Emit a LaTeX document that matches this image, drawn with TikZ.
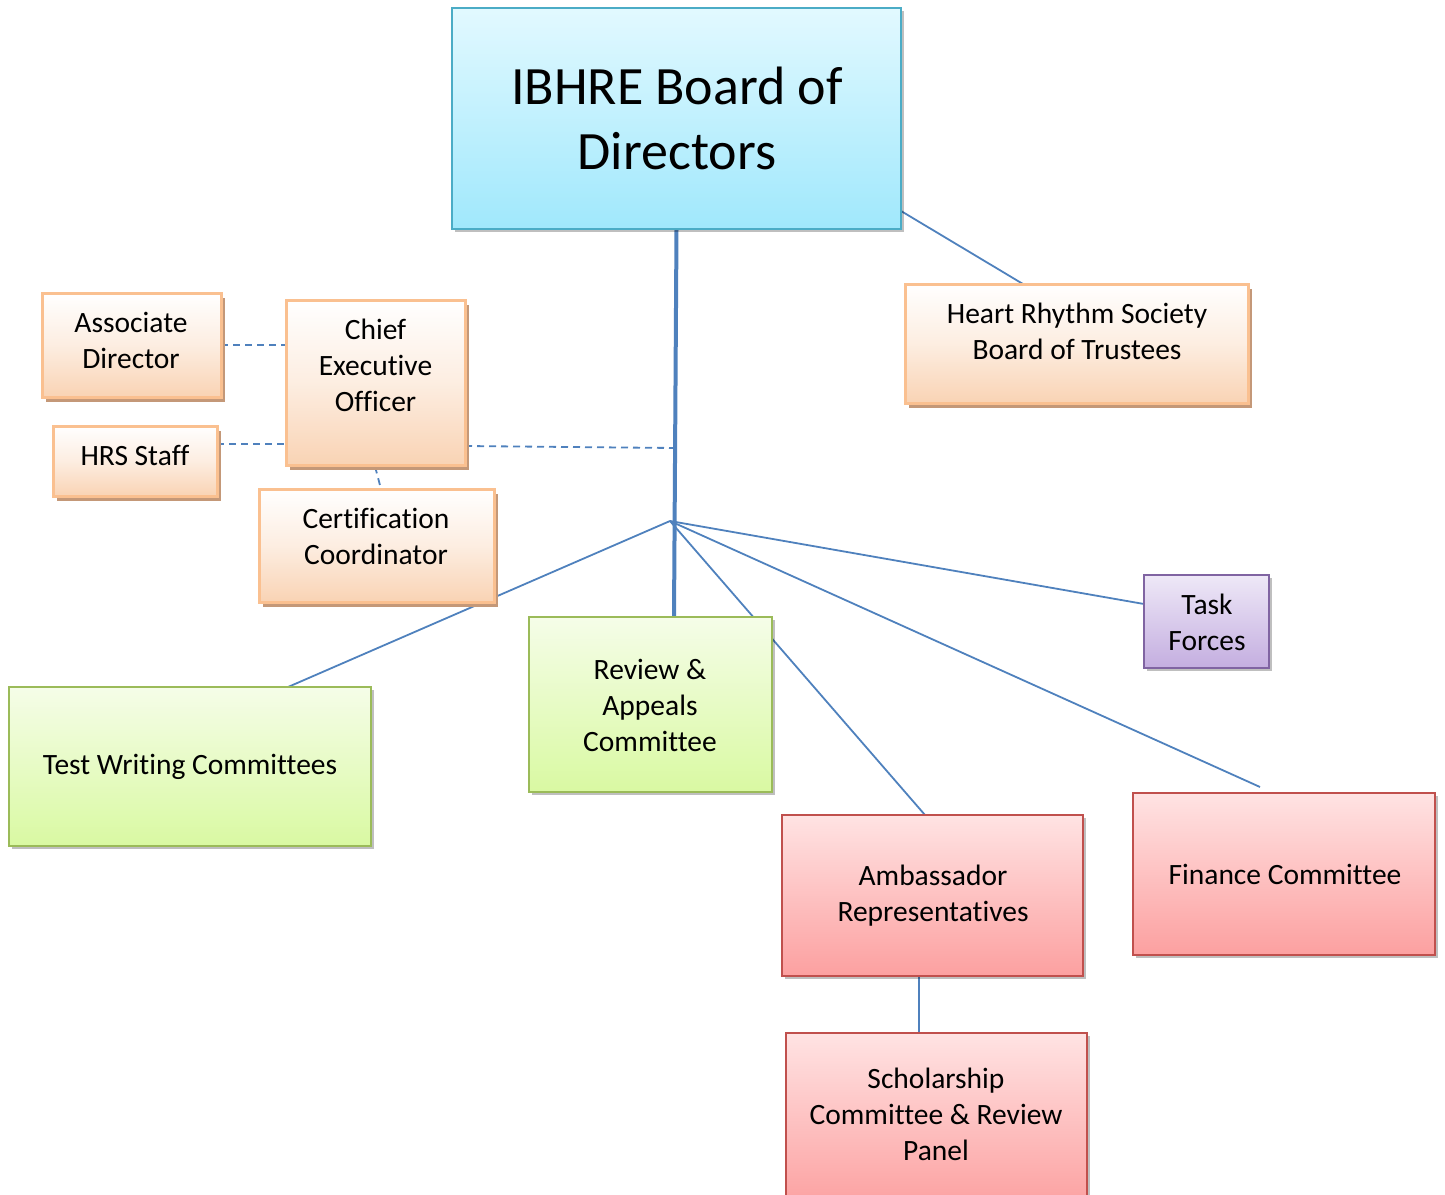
\documentclass[tikz,border=0pt]{standalone}
\usepackage{fontspec}
\setmainfont{Carlito}[RawFeature={-liga;-clig;-calt;-dlig}]
\usetikzlibrary{shadows,calc}
\pgfdeclarelayer{bg}
\pgfsetlayers{bg,main}
\definecolor{lineC}{HTML}{4F81BD}
\definecolor{oBord}{HTML}{FAC090}
\definecolor{oFill}{HTML}{F9D3B4}
\definecolor{oShad}{HTML}{C49878}
\definecolor{cBord}{HTML}{4BACC6}
\definecolor{cTop}{HTML}{E2F9FF}
\definecolor{cBot}{HTML}{A0E8FC}
\definecolor{gBord}{HTML}{9BBB59}
\definecolor{gTop}{HTML}{F5FDE8}
\definecolor{gBot}{HTML}{D9F9A2}
\definecolor{pBord}{HTML}{8064A2}
\definecolor{pTop}{HTML}{EEE8F7}
\definecolor{pBot}{HTML}{C4AEE0}
\definecolor{rBord}{HTML}{C0504D}
\definecolor{rTop}{HTML}{FFE3E3}
\definecolor{rBot}{HTML}{FCA0A0}
\tikzset{
  box/.style={rectangle, anchor=north west, inner sep=0pt, outer sep=0pt, line width=2pt},
  obox/.style={box, draw=oBord, top color=white, bottom color=oFill, middle color=oFill!40, line width=3pt,
    drop shadow={shadow xshift=4pt, shadow yshift=-5pt, fill=oShad, opacity=1}},
  cbox/.style={box, draw=cBord, top color=cTop, bottom color=cBot,
    drop shadow={shadow xshift=3pt, shadow yshift=-3pt, fill=black, opacity=0.25}},
  gbox/.style={box, draw=gBord, top color=gTop, bottom color=gBot,
    drop shadow={shadow xshift=3pt, shadow yshift=-3pt, fill=black, opacity=0.25}},
  pbox/.style={box, draw=pBord, top color=pTop, bottom color=pBot,
    drop shadow={shadow xshift=3pt, shadow yshift=-3pt, fill=black, opacity=0.25}},
  rbox/.style={box, draw=rBord, top color=rTop, bottom color=rBot,
    drop shadow={shadow xshift=3pt, shadow yshift=-3pt, fill=black, opacity=0.25}},
  txt/.style={inner sep=0pt, align=center, font=\fontsize{29.5}{36}\selectfont},
  bigtxt/.style={inner sep=0pt, align=center, font=\fontsize{54}{65}\selectfont},
  conn/.style={draw=lineC, line width=1.8pt},
  trunk/.style={draw=lineC, line width=4pt},
  dconn/.style={draw=lineC, line width=1.8pt, dash pattern=on 7pt off 5pt},
}
\begin{document}
\begin{tikzpicture}[x=1pt,y=-1pt]
\useasboundingbox (0,0) rectangle (1445,1194);
% boxes
\node[cbox, minimum width=449pt, minimum height=221pt] (board) at (452,8) {};
\node[bigtxt] (boardT) at (677,118) {IBHRE Board of\\Directors};

\node[obox, minimum width=179pt, minimum height=104pt] (assoc) at (42,293) {};
\node[txt] (assocT) at (131,340) {Associate\\Director};

\node[obox, minimum width=179pt, minimum height=165pt] (ceo) at (286,300) {};
\node[txt] (ceoT) at (375.5,365) {Chief\\Executive\\Officer};

\node[obox, minimum width=164pt, minimum height=70pt] (staff) at (53,426) {};
\node[txt] (staffT) at (135,455) {HRS Staff};

\node[obox, minimum width=235pt, minimum height=113pt] (cert) at (259,489) {};
\node[txt] (certT) at (376,536) {Certification\\Coordinator};

\node[obox, minimum width=343pt, minimum height=119pt] (hrs) at (905,284) {};
\node[txt] (hrsT) at (1077,331) {Heart Rhythm Society\\Board of Trustees};

\node[gbox, minimum width=362pt, minimum height=159pt] (test) at (9,687) {};
\node[txt] (testT) at (190,767) {Test Writing Committees};

\node[gbox, minimum width=243pt, minimum height=175pt] (rev) at (529,617) {};
\node[txt] (revT) at (650,705) {Review \&\\Appeals\\Committee};

\node[pbox, minimum width=125pt, minimum height=93pt] (task) at (1144,575) {};
\node[txt] (taskT) at (1207,622) {Task\\Forces};

\node[rbox, minimum width=301pt, minimum height=161pt] (amb) at (782,815) {};
\node[txt] (ambT) at (933,896) {Ambassador\\Representatives};

\node[rbox, minimum width=302pt, minimum height=162pt] (fin) at (1133,793) {};
\node[txt] (finT) at (1285,874) {Finance Committee};

\node[rbox, minimum width=301pt, minimum height=175pt] (schol) at (786,1033) {};
\node[txt] (scholT) at (936,1114) {Scholarship\\Committee \& Review\\Panel};

% connectors
\coordinate (hub) at (670,521);
\coordinate (tj) at (675,448);
\coordinate (finend) at (1260,787);
\begin{pgfonlayer}{bg}
\draw[trunk] (board.south) -- ([xshift=145pt]rev.north west);
\draw[conn] ([yshift=18pt]board.south east) -- ([xshift=118pt]hrs.north west);
\draw[dconn] (assoc.east) -- (assoc.east -| ceo.west);
\draw[dconn] ([yshift=17pt]staff.east) -- ([yshift=17pt]staff.east -| ceo.west);
\draw[dconn] ([yshift=19pt]ceo.south east) -- (tj);
\draw[dconn] ([xshift=86pt,yshift=10pt]ceo.south west) -- ([xshift=122pt]cert.north west);
\draw[conn] (hub) -- ([xshift=279pt]test.north west);
\draw[conn] (hub) -- ([xshift=143pt]amb.north west);
\draw[conn] (hub) -- ([yshift=-29pt]task.north west);
\draw[conn] (hub) -- (finend);
\draw[conn] ([xshift=137pt]amb.south west) -- ([xshift=133pt]schol.north west);
\end{pgfonlayer}
\end{tikzpicture}
\end{document}
